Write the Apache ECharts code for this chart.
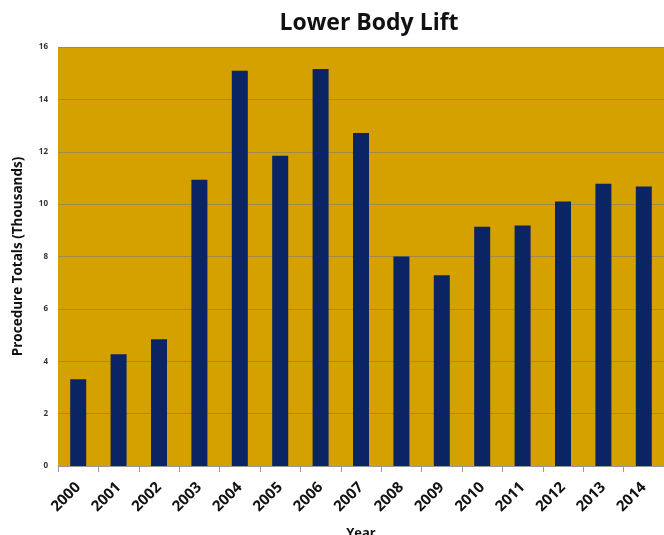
<!DOCTYPE html>
<html>
<head>
<meta charset="utf-8">
<script src="https://cdn.jsdelivr.net/npm/echarts@6/dist/echarts.min.js"></script>
<style>
html,body{margin:0;padding:0;background:#fff;}
#chart{width:664px;height:535px;}
</style>
</head>
<body>
<div id="chart"></div>
<script>
// Lower body lift procedures per year, in thousands
const years = ['2000','2001','2002','2003','2004','2005','2006','2007','2008','2009','2010','2011','2012','2013','2014'];
const totals = [3.31, 4.27, 4.84, 10.93, 15.09, 11.85, 15.16, 12.72, 8.0, 7.28, 9.14, 9.18, 10.1, 10.78, 10.67];
const yTicks = [0, 2, 4, 6, 8, 10, 12, 14, 16];

const chart = echarts.init(document.getElementById('chart'));
chart.setOption({
  animation: false,
  title: {
    text: 'Lower Body Lift',
    left: 364, top: 7, textAlign: 'center',
    textStyle: { fontFamily: 'Open Sans', fontWeight: 'bold', fontSize: 23, color: '#111' }
  },
  grid: { left: 58, right: 0, top: 47, bottom: 69, backgroundColor: '#D5A100', show: true, borderWidth: 0, outerBoundsMode: 'none', containLabel: false },
  xAxis: {
    type: 'category',
    data: years,
    name: 'Year',
    nameLocation: 'middle',
    nameGap: 61,
    nameTextStyle: { fontFamily: 'Open Sans', fontWeight: 'bold', fontSize: 13, color: '#111' },
    axisLine: { lineStyle: { color: '#999' } },
    axisTick: { show: true, length: 6, lineStyle: { color: '#999' } },
    axisLabel: { rotate: 45, fontFamily: 'Open Sans', fontWeight: 'bold', fontSize: 15, color: '#111', margin: 19 }
  },
  yAxis: {
    type: 'value',
    min: yTicks[0], max: yTicks[yTicks.length - 1], interval: 2,
    name: 'Procedure Totals (Thousands)',
    nameLocation: 'middle',
    nameGap: 33,
    nameTextStyle: { fontFamily: 'Open Sans', fontWeight: 'bold', fontSize: 13.5, color: '#111' },
    axisLine: { show: false },
    axisTick: { show: false },
    axisLabel: { fontFamily: 'Open Sans', fontWeight: 'bold', fontSize: 8, color: '#333', margin: 10 },
    splitLine: { lineStyle: { color: '#9E8A4A', width: 1 } }
  },
  series: [{
    type: 'bar',
    data: totals,
    barWidth: 16,
    itemStyle: { color: '#0B2463' }
  }]
});
</script>
</body>
</html>
